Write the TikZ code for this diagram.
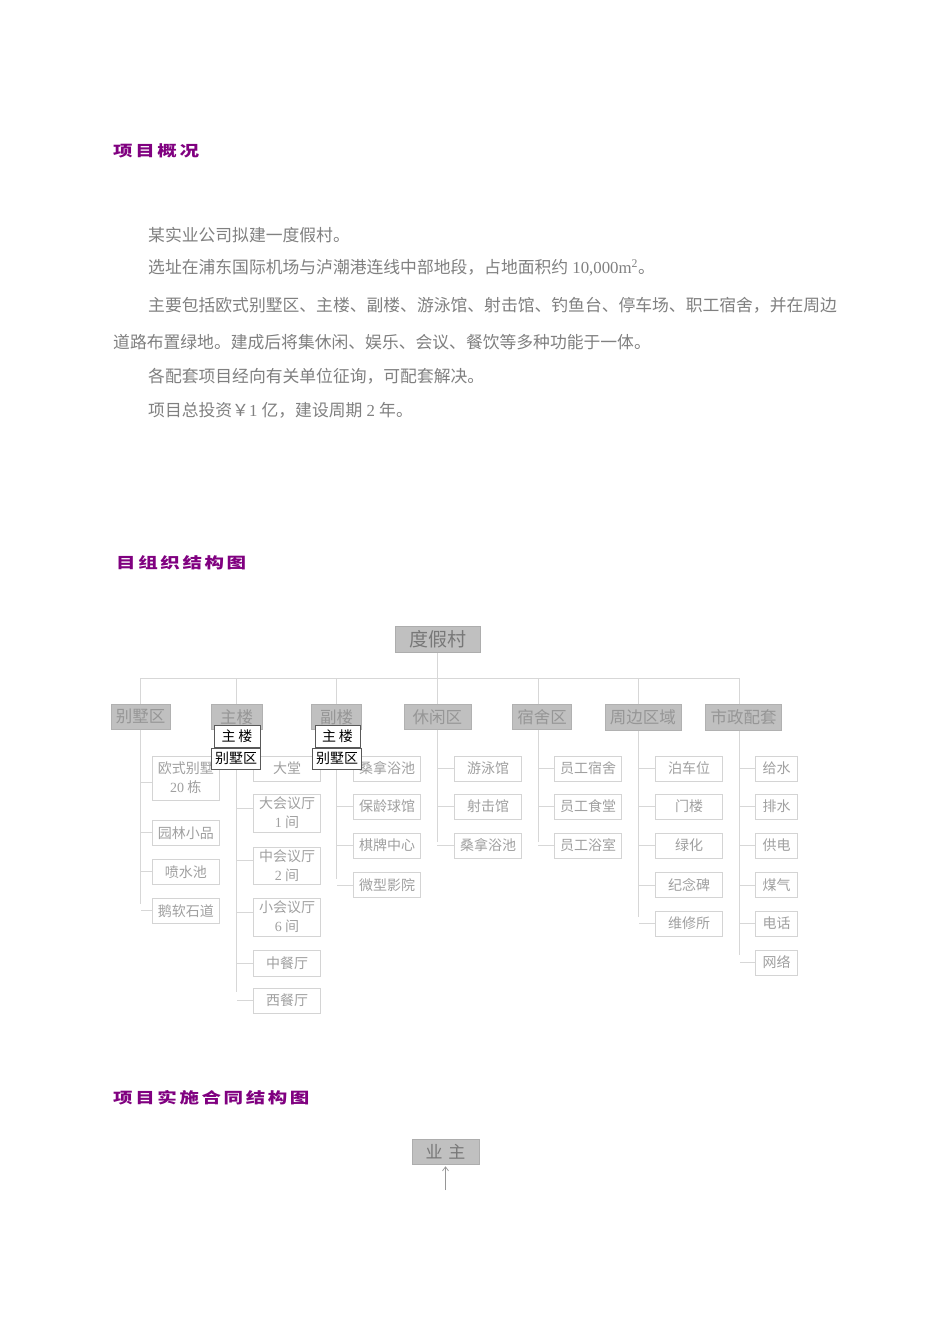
\documentclass[tikz,border=0pt]{standalone}
\usepackage{fontspec}
\usepackage{graphicx}
\setmainfont{Liberation Serif}
\newfontfamily\cjk{Noto Sans CJK SC}
\usetikzlibrary{arrows.meta}
\definecolor{ttl}{RGB}{128,0,128}
\definecolor{bodyg}{RGB}{128,128,128}
\definecolor{boxfill}{RGB}{192,192,192}
\definecolor{roottxt}{RGB}{120,120,120}
\definecolor{cattxt}{RGB}{150,150,150}
\definecolor{leaftxt}{RGB}{160,160,160}
\definecolor{leafbd}{RGB}{212,212,212}
\definecolor{linec}{RGB}{215,215,215}
\definecolor{arrowc}{RGB}{150,150,150}
\newcommand\spreadtxt[2]{\def\spk{#1}\spreadaux#2\relax}
\def\spreadaux#1{\ifx#1\relax\else#1\kern\spk\expandafter\spreadaux\fi}
\tikzset{
 conn/.style={draw=linec, line width=0.9pt},
 rootbox/.style={fill=boxfill, draw=boxfill!90!black, line width=0.5pt, text=roottxt, font=\cjk\fontsize{19}{19}\selectfont, inner sep=0pt, minimum width=85pt, minimum height=26pt},
 catbox/.style={fill=boxfill, draw=boxfill!92!black, line width=0.5pt, text=cattxt, font=\cjk\fontsize{16.5}{16.5}\selectfont, inner sep=0pt, minimum height=25pt},
 leaf/.style={draw=leafbd, fill=white, line width=0.8pt, text=leaftxt, font=\cjk\fontsize{14}{19}\selectfont, inner sep=0pt, align=center, minimum width=67pt, minimum height=25pt},
 over/.style={draw=black!65, fill=white, line width=0.8pt, text=black, font=\cjk\fontsize{14}{14}\selectfont, inner sep=0pt},
 head/.style={anchor=west, inner sep=0pt, text=ttl, font=\cjk\bfseries\fontsize{15}{15}\selectfont},
 body/.style={anchor=west, inner sep=0pt, text=bodyg, font=\fontsize{16.8}{20}\selectfont},
}
\begin{document}
\begin{tikzpicture}[x=1pt,y=-1pt]
\fill[white] (0,0) rectangle (950,1344);
\useasboundingbox (0,0) rectangle (950,1344);

% headings
\node[head] (h1) at (113,151) {\scalebox{1.3}[1]{\spreadtxt{2pt}{项目概况}}};
\node[head] (h2) at (116,563) {\scalebox{1.3}[1]{\spreadtxt{2pt}{目组织结构图}}};
\node[head] (h3) at (113,1098) {\scalebox{1.3}[1]{\spreadtxt{2pt}{项目实施合同结构图}}};

% body text
\node[body] (l1) at (148,235) {{\cjk 某实业公司拟建一度假村。}};
\node[body] (l2) at (148,268) {{\cjk 选址在浦东国际机场与泸潮港连线中部地段，占地面积约} 10,000m\textsuperscript{2}{\cjk 。}};
\node[body] (l3) at (148,305) {{\cjk 主要包括欧式别墅区、主楼、副楼、游泳馆、射击馆、钓鱼台、停车场、职工宿舍，并在周边}};
\node[body] (l4) at (113,342) {{\cjk 道路布置绿地。建成后将集休闲、娱乐、会议、餐饮等多种功能于一体。}};
\node[body] (l5) at (148,376) {{\cjk 各配套项目经向有关单位征询，可配套解决。}};
\node[body] (l6) at (148,410) {{\cjk 项目总投资￥}1 {\cjk 亿，建设周期} 2 {\cjk 年。}};

% root and categories
\node[rootbox] (root) at (437.5,639.7) {度假村};
\node[catbox, minimum width=59pt] (bs) at (140.7,716.8) {别墅区};
\node[catbox, minimum width=51pt] (zl) at (236.5,716.8) {主楼};
\node[catbox, minimum width=50pt] (fl) at (336.7,716.8) {副楼};
\node[catbox, minimum width=67pt] (xx) at (437.3,716.8) {休闲区};
\node[catbox, minimum width=59pt] (ss) at (542.2,716.8) {宿舍区};
\node[catbox, minimum width=76pt, minimum height=26pt] (zb) at (642.8,717.5) {周边区域};
\node[catbox, minimum width=76pt, minimum height=26pt] (sz) at (743.5,717.5) {市政配套};

\coordinate (bus) at (437.5,678.3);
\coordinate (busL) at (140.7,678.3);
\coordinate (busR) at (739.3,678.3);
\draw[conn] (root.south) -- (bus);
\draw[conn] (busL) -- (busR);
\coordinate (vbs) at (140.7,904);
\coordinate (vzl) at (236.7,991.7);
\coordinate (vfl) at (336.7,879.3);
\coordinate (vxx) at (437.3,842.3);
\coordinate (vss) at (538.3,842.3);
\coordinate (vzb) at (638.7,916.7);
\coordinate (vsz) at (739.6,955);
\foreach \c/\v in {bs/vbs,zl/vzl,fl/vfl,xx/vxx,ss/vss,zb/vzb,sz/vsz}{
  \draw[conn] (\c.north -| \v) -- (\v |- bus);
  \draw[conn] (\c.south -| \v) -- (\v);
}

% children: 别墅区
\node[leaf, minimum height=44pt] (b1) at (185.8,778) {欧式别墅\\{\rmfamily 20} 栋};
\node[leaf] (b2) at (185.8,832.7) {园林小品};
\node[leaf] (b3) at (185.8,871.8) {喷水池};
\node[leaf] (b4) at (185.8,910.8) {鹅软石道};
\draw[conn] ([yshift=-4pt]b1.west) -- ([yshift=-4pt]b1.west -| vbs);
\foreach \n in {b2,b3,b4}{\draw[conn] (\n.west) -- (\n.west -| vbs);}

% 主楼
\node[leaf] (z1) at (287,768.5) {大堂};
\node[leaf, minimum height=38pt] (z2) at (287,813) {大会议厅\\{\rmfamily 1} 间};
\node[leaf, minimum height=37pt] (z3) at (287,865.5) {中会议厅\\{\rmfamily 2} 间};
\node[leaf, minimum height=38pt] (z4) at (287,917) {小会议厅\\{\rmfamily 6} 间};
\node[leaf, minimum height=26pt] (z5) at (287,963) {中餐厅};
\node[leaf] (z6) at (287,1000.5) {西餐厅};
\foreach \n in {z1,z5,z6}{\draw[conn] (\n.west) -- (\n.west -| vzl);}
\foreach \n in {z2,z3,z4}{\draw[conn] ([yshift=5pt]\n.west) -- ([yshift=5pt]\n.west -| vzl);}

% 副楼
\node[leaf] (f1) at (387,768.5) {桑拿浴池};
\node[leaf] (f2) at (387,806.5) {保龄球馆};
\node[leaf] (f3) at (387,845.5) {棋牌中心};
\node[leaf] (f4) at (387,885) {微型影院};
\foreach \n in {f1,f2,f3,f4}{\draw[conn] (\n.west) -- (\n.west -| vfl);}

% 休闲区
\node[leaf] (x1) at (488,768.5) {游泳馆};
\node[leaf] (x2) at (488,806.5) {射击馆};
\node[leaf] (x3) at (488,845.5) {桑拿浴池};
\foreach \n in {x1,x2,x3}{\draw[conn] (\n.west) -- (\n.west -| vxx);}

% 宿舍区
\node[leaf] (s1) at (588,768.5) {员工宿舍};
\node[leaf] (s2) at (588,806.5) {员工食堂};
\node[leaf] (s3) at (588,845.5) {员工浴室};
\foreach \n in {s1,s2,s3}{\draw[conn] (\n.west) -- (\n.west -| vss);}

% 周边区域
\node[leaf] (p1) at (689.2,768.5) {泊车位};
\node[leaf] (p2) at (689.2,806.5) {门楼};
\node[leaf] (p3) at (689.2,845.5) {绿化};
\node[leaf] (p4) at (689.2,885) {纪念碑};
\node[leaf] (p5) at (689.2,923.5) {维修所};
\foreach \n in {p1,p2,p3,p4,p5}{\draw[conn] (\n.west) -- (\n.west -| vzb);}

% 市政配套
\node[leaf, minimum width=42pt] (m1) at (776.5,768.5) {给水};
\node[leaf, minimum width=42pt] (m2) at (776.5,806.5) {排水};
\node[leaf, minimum width=42pt] (m3) at (776.5,845.5) {供电};
\node[leaf, minimum width=42pt] (m4) at (776.5,885) {煤气};
\node[leaf, minimum width=42pt] (m5) at (776.5,923.5) {电话};
\node[leaf, minimum width=42pt] (m6) at (776.5,962.5) {网络};
\foreach \n in {m1,m2,m3,m4,m5,m6}{\draw[conn] (\n.west) -- (\n.west -| vsz);}

% overlay labels
\node[over, minimum width=46pt, minimum height=22.5pt] (o1) at (237,736.3) {主\kern3pt楼};
\node[over, minimum width=49pt, minimum height=21pt] (o2) at (236.2,758.8) {别墅区};
\node[over, minimum width=45pt, minimum height=22.5pt] (o3) at (337.5,736.3) {主\kern3pt楼};
\node[over, minimum width=49.4pt, minimum height=21pt] (o4) at (337,758.8) {别墅区};

% owner
\node[rootbox, minimum width=67pt, minimum height=25pt, font=\cjk\fontsize{17}{17}\selectfont] (yz) at (445.5,1151.5) {业\kern6pt主};
\coordinate (arrS) at (445.5,1190);
\draw[draw=arrowc, line width=0.7pt, -{Straight Barb[length=4pt,width=6pt]}] (arrS) -- ([yshift=-2pt]yz.south);
\end{tikzpicture}
\end{document}
